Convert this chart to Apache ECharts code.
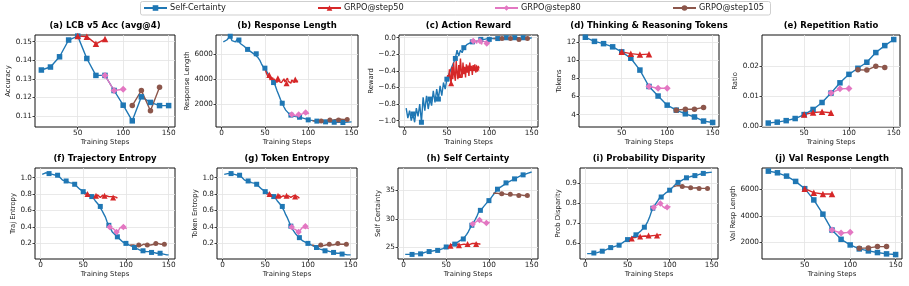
<!DOCTYPE html>
<html>
<head>
<meta charset="utf-8">
<script src="https://cdn.jsdelivr.net/npm/echarts@6/dist/echarts.min.js"></script>
<style>
html, body { margin: 0; padding: 0; background: #fff; }
#chart { width: 909px; height: 286px; }
</style>
</head>
<body>
<div id="chart"></div>
<script>
var FONT = 'DejaVu Sans';
var TXT = '#1a1a1a';
var GRIDC = '#e3e3e3';
var C_SC = '#1f77b4', C_50 = '#d62728', C_80 = '#e377c2', C_105 = '#8c564b';
var NAMES = ['Self-Certainty', 'GRPO@step50', 'GRPO@step80', 'GRPO@step105'];

// ---- (a) LCB v5 Acc, evaluated every 10 steps
var accSC = [0.1348, 0.1364, 0.1419, 0.1509, 0.1530, 0.1410, 0.1319, 0.1319, 0.1238, 0.1159, 0.1075, 0.1204, 0.1174, 0.1157, 0.1157];
var acc50 = [0.1530, 0.1527, 0.1489, 0.1514];
var acc80 = [0.1319, 0.1238, 0.1245];
var acc105 = [0.1157, 0.1238, 0.1129, 0.1256];

// ---- (d) Thinking & Reasoning Tokens
var tokSC = [12.5, 12.05, 11.8, 11.45, 10.9, 10.2, 8.9, 7.1, 6.05, 5.05, 4.5, 4.1, 3.75, 3.3, 3.15];
var tok50 = [10.9, 10.7, 10.6, 10.65];
var tok80 = [7.1, 6.9, 6.9];
var tok105 = [4.5, 4.6, 4.6, 4.8];

// ---- (e) Repetition Ratio
var repSC = [0.0011, 0.0014, 0.0019, 0.0026, 0.0039, 0.0056, 0.0079, 0.0110, 0.0144, 0.0172, 0.0192, 0.0212, 0.0244, 0.0267, 0.0287];
var rep50 = [0.0039, 0.0046, 0.0048, 0.0045];
var rep80 = [0.0110, 0.0124, 0.0125];
var rep105 = [0.0187, 0.0186, 0.0199, 0.0195];

// ---- (j) Val Response Length
var valSC = [7375, 7250, 7000, 6600, 6050, 5200, 4125, 2925, 2225, 1800, 1500, 1350, 1225, 1125, 1075];
var val50 = [6050, 5750, 5650, 5650];
var val80 = [2925, 2700, 2750];
var val105 = [1550, 1575, 1675, 1675];

// ---- dense (per step) curves: blue every 2 steps from 2, red every step from 50,
// pink every step from 80, brown every 2 steps from 105
var respSC = [6950, 6900, 7100, 7250, 7400, 7050, 7150, 6950, 7150, 7100,
  6800, 6950, 6600, 6650, 6350, 6450, 6150, 6250, 5950, 6000,
  5700, 5500, 5200, 4950, 4850, 4600, 4350, 4150, 3950, 3700,
  3450, 3050, 2700, 2350, 2050, 1750, 1500, 1350, 1200, 1100,
  1050, 1000, 980, 950, 930, 900, 860, 820, 780, 720,
  700, 680, 660, 640, 620, 600, 590, 580, 570, 560,
  560, 550, 540, 540, 530, 530, 520, 520, 520, 510,
  520, 530, 540, 550, 560];
var resp50 = [4850, 4600, 4400, 4250, 4100, 4300, 3900, 4150, 3850, 4100,
  3750, 4000, 3650, 3900, 3700, 4050, 3800, 3650, 3950, 3700,
  3850, 3600, 4000, 3750, 3900, 3650, 4050, 3800, 3700, 3950,
  3650, 3900, 3750, 4000, 3700, 3950, 3800, 3750, 3850];
var resp80 = [1100, 1150, 1050, 1100, 1000, 1150, 1050, 1100, 1050, 1150, 1050,
  1100, 1150, 1200, 1150, 1250, 1200, 1300, 1200, 1300, 1250, 1240];
var resp105 = [650, 620, 600, 640, 590, 620, 650, 600, 680, 640, 700,
  660, 720, 680, 750, 700, 780, 720, 760, 740, 750];

var rewSC = [-0.85, -0.97, -0.88, -1.0, -0.92, -1.02, -0.85, -0.95, -0.80, -1.02,
  -0.72, -0.88, -0.70, -0.86, -0.74, -0.82, -0.64, -0.78, -0.62, -0.74,
  -0.58, -0.70, -0.54, -0.62, -0.50, -0.48, -0.40, -0.42, -0.30, -0.25,
  -0.15, -0.22, -0.15, -0.18, -0.12, -0.12, -0.08, -0.07, -0.06, -0.05,
  -0.05, -0.03, -0.04, -0.03, -0.02, -0.03, -0.02, -0.02, -0.01, -0.02,
  -0.01, -0.02, -0.01, -0.01, -0.01, -0.01, 0.0, -0.01, -0.01, 0.0,
  -0.01, 0.0, -0.01, 0.0, 0.0, -0.01, 0.0, 0.0, -0.01, 0.0,
  0.0, 0.0, -0.01, 0.0, 0.0];
var rew50 = [-0.50, -0.45, -0.52, -0.38, -0.48, -0.55, -0.35, -0.50, -0.30, -0.45,
  -0.52, -0.28, -0.42, -0.50, -0.33, -0.45, -0.25, -0.40, -0.48, -0.30,
  -0.44, -0.35, -0.48, -0.32, -0.42, -0.36, -0.46, -0.30, -0.40, -0.34,
  -0.45, -0.33, -0.40, -0.32, -0.42, -0.36, -0.41, -0.34, -0.37];
var rew80 = [-0.05, -0.04, -0.06, -0.03, -0.05, -0.07, -0.04, -0.03, -0.06, -0.04, -0.05,
  -0.08, -0.04, -0.03, -0.06, -0.05, -0.04, -0.07, -0.03, -0.06, -0.08, -0.05];
var rew105 = [-0.01, -0.02, -0.01, -0.01, -0.02, -0.01, -0.01, -0.02, -0.01, -0.02, -0.01,
  -0.01, -0.02, -0.01, -0.01, -0.02, -0.01, -0.01, -0.02, -0.01, -0.01];

var trajSC = [1.04, 1.05, 1.06, 1.05, 1.05, 1.05, 1.04, 1.04, 1.03, 1.03,
  1.01, 0.99, 0.97, 0.96, 0.96, 0.95, 0.94, 0.93, 0.93, 0.92,
  0.90, 0.88, 0.86, 0.84, 0.83, 0.82, 0.81, 0.80, 0.78, 0.77,
  0.75, 0.72, 0.70, 0.67, 0.65, 0.60, 0.56, 0.52, 0.46, 0.42,
  0.38, 0.34, 0.32, 0.30, 0.28, 0.26, 0.24, 0.22, 0.21, 0.20,
  0.19, 0.18, 0.17, 0.16, 0.15, 0.14, 0.13, 0.12, 0.12, 0.11,
  0.11, 0.10, 0.10, 0.10, 0.09, 0.09, 0.09, 0.08, 0.08, 0.08,
  0.07, 0.07, 0.07, 0.06, 0.06];
var traj50 = [0.83, 0.82, 0.80, 0.81, 0.79, 0.80, 0.78, 0.81, 0.79, 0.77,
  0.80, 0.78, 0.76, 0.79, 0.77, 0.78, 0.76, 0.79, 0.77, 0.78,
  0.76, 0.78, 0.77, 0.79, 0.76, 0.78, 0.77, 0.78, 0.76, 0.78,
  0.77, 0.79, 0.76, 0.77, 0.78, 0.76, 0.77, 0.76, 0.77, 0.76, 0.75];
var traj80 = [0.42, 0.40, 0.38, 0.39, 0.37, 0.38, 0.36, 0.37, 0.35, 0.34, 0.36,
  0.35, 0.37, 0.39, 0.40, 0.41, 0.39, 0.40, 0.42, 0.39, 0.40, 0.38];
var traj105 = [0.18, 0.17, 0.18, 0.16, 0.17, 0.18, 0.17, 0.18, 0.19, 0.18, 0.18,
  0.19, 0.18, 0.19, 0.19, 0.20, 0.20, 0.19, 0.19, 0.18, 0.19];

var tentSC = [1.04, 1.05, 1.05, 1.05, 1.05, 1.04, 1.04, 1.04, 1.03, 1.03,
  1.01, 0.99, 0.97, 0.96, 0.96, 0.95, 0.94, 0.93, 0.93, 0.92,
  0.90, 0.88, 0.86, 0.84, 0.83, 0.82, 0.81, 0.80, 0.78, 0.77,
  0.75, 0.72, 0.70, 0.67, 0.65, 0.60, 0.55, 0.51, 0.46, 0.41,
  0.37, 0.34, 0.31, 0.29, 0.27, 0.25, 0.23, 0.22, 0.21, 0.20,
  0.19, 0.18, 0.17, 0.16, 0.15, 0.14, 0.13, 0.12, 0.12, 0.11,
  0.11, 0.10, 0.10, 0.09, 0.09, 0.09, 0.08, 0.08, 0.08, 0.07,
  0.07, 0.07, 0.06, 0.06, 0.06];
var tent50 = [0.83, 0.81, 0.80, 0.82, 0.79, 0.80, 0.78, 0.80, 0.79, 0.77,
  0.79, 0.78, 0.76, 0.79, 0.77, 0.78, 0.77, 0.79, 0.76, 0.78,
  0.77, 0.78, 0.76, 0.79, 0.77, 0.78, 0.76, 0.78, 0.77, 0.79,
  0.76, 0.78, 0.77, 0.78, 0.76, 0.77, 0.78, 0.76, 0.77, 0.76, 0.75];
var tent80 = [0.41, 0.40, 0.38, 0.39, 0.37, 0.37, 0.36, 0.36, 0.35, 0.34, 0.35,
  0.36, 0.37, 0.39, 0.40, 0.40, 0.39, 0.41, 0.41, 0.39, 0.40, 0.38];
var tent105 = [0.18, 0.17, 0.17, 0.16, 0.17, 0.18, 0.17, 0.18, 0.18, 0.18, 0.19,
  0.18, 0.18, 0.19, 0.19, 0.20, 0.19, 0.19, 0.19, 0.18, 0.19];

var certSC = [23.8, 23.7, 23.8, 23.8, 23.8, 23.8, 23.9, 23.8, 23.9, 23.9,
  24.0, 24.1, 24.2, 24.2, 24.3, 24.3, 24.4, 24.4, 24.5, 24.5,
  24.6, 24.7, 24.8, 25.0, 25.1, 25.2, 25.3, 25.4, 25.5, 25.6,
  25.8, 26.0, 26.2, 26.4, 26.5, 26.9, 27.3, 27.8, 28.4, 28.9,
  29.4, 29.9, 30.5, 31.2, 31.5, 31.8, 32.2, 32.5, 32.9, 33.2,
  33.6, 34.0, 34.4, 34.8, 35.2, 35.4, 35.6, 35.8, 36.0, 36.3,
  36.4, 36.6, 36.7, 36.9, 37.0, 37.1, 37.3, 37.4, 37.6, 37.7,
  37.8, 37.9, 38.0, 38.1, 38.2];
var cert50 = [25.1, 25.2, 25.3, 25.2, 25.4, 25.3, 25.5, 25.3, 25.4, 25.6,
  25.4, 25.5, 25.7, 25.5, 25.6, 25.4, 25.6, 25.7, 25.5, 25.6,
  25.4, 25.6, 25.5, 25.7, 25.5, 25.6, 25.4, 25.5, 25.6, 25.5,
  25.7, 25.6, 25.5, 25.7, 25.6, 25.6, 25.7, 25.6, 25.7, 25.6, 25.7];
var cert80 = [28.9, 29.1, 29.2, 29.3, 29.4, 29.5, 29.6, 29.6, 29.7, 29.8, 29.7,
  29.6, 29.5, 29.4, 29.3, 29.3, 29.4, 29.3, 29.4, 29.5, 29.4, 29.4];
var cert105 = [34.5, 34.6, 34.5, 34.5, 34.4, 34.4, 34.4, 34.3, 34.3, 34.2, 34.3,
  34.2, 34.2, 34.3, 34.2, 34.1, 34.2, 34.2, 34.1, 34.1, 34.1];

var probSC = [0.55, 0.55, 0.55, 0.55, 0.553, 0.553, 0.555, 0.557, 0.56, 0.562,
  0.565, 0.568, 0.572, 0.576, 0.58, 0.582, 0.585, 0.587, 0.59, 0.592,
  0.598, 0.604, 0.61, 0.615, 0.62, 0.624, 0.629, 0.634, 0.639, 0.644,
  0.65, 0.656, 0.664, 0.673, 0.682, 0.695, 0.71, 0.73, 0.755, 0.777,
  0.79, 0.80, 0.815, 0.828, 0.833, 0.84, 0.848, 0.855, 0.862, 0.867,
  0.875, 0.883, 0.892, 0.90, 0.906, 0.91, 0.915, 0.92, 0.925, 0.929,
  0.931, 0.934, 0.936, 0.938, 0.94, 0.941, 0.944, 0.947, 0.949, 0.951,
  0.952, 0.954, 0.955, 0.956, 0.957];
var prob50 = [0.62, 0.622, 0.625, 0.623, 0.627, 0.625, 0.63, 0.628, 0.632, 0.63,
  0.635, 0.632, 0.636, 0.633, 0.637, 0.635, 0.638, 0.634, 0.637, 0.639,
  0.636, 0.638, 0.635, 0.639, 0.637, 0.64, 0.636, 0.638, 0.641, 0.638,
  0.64, 0.642, 0.639, 0.641, 0.643, 0.64, 0.642, 0.644, 0.643, 0.645, 0.644];
var prob80 = [0.777, 0.78, 0.784, 0.787, 0.79, 0.793, 0.796, 0.8, 0.803, 0.8, 0.795,
  0.79, 0.785, 0.78, 0.778, 0.776, 0.78, 0.782, 0.785, 0.784, 0.783, 0.785];
var prob105 = [0.885, 0.888, 0.89, 0.887, 0.889, 0.885, 0.884, 0.882, 0.883, 0.88, 0.879,
  0.881, 0.878, 0.877, 0.879, 0.876, 0.877, 0.875, 0.876, 0.874, 0.875];

// x start / step for each series kind
var sparseX = { sc: [10, 10], g50: [50, 10], g80: [80, 10], g105: [110, 10] };
var denseX = { sc: [2, 2], g50: [50, 1], g80: [80, 1], g105: [105, 2] };

function f1(v) { return v < 0 ? '\u2212' + Math.abs(v).toFixed(1) : v.toFixed(1); }
function f2(v) { return v.toFixed(2); }
function f0(v) { return String(v); }

var panels = [
  { title: '(a) LCB v5 Acc (avg@4)', yName: 'Accuracy', gap: 22, box: [35, 35, 140, 92], dense: false,
    ymin: 0.1042, ymax: 0.1536, yt: [0.11, 0.12, 0.13, 0.14, 0.15], fmt: f2, d: [accSC, acc50, acc80, acc105] },
  { title: '(b) Response Length', yName: 'Response Length', gap: 24, box: [216, 35, 142, 92], dense: true,
    ymin: 150, ymax: 7500, yt: [2000, 4000, 6000], fmt: f0, d: [respSC, resp50, resp80, resp105] },
  { title: '(c) Action Reward', yName: 'Reward', gap: 24, box: [399, 35, 139, 92], dense: true,
    ymin: -1.077, ymax: 0.033, yt: [-1.0, -0.8, -0.6, -0.4, -0.2, 0.0], fmt: f1, d: [rewSC, rew50, rew80, rew105] },
  { title: '(d) Thinking & Reasoning Tokens', yName: 'Tokens', gap: 15.5, box: [579, 35, 140, 92], dense: false,
    ymin: 2.65, ymax: 12.75, yt: [4, 6, 8, 10, 12], fmt: f0, d: [tokSC, tok50, tok80, tok105] },
  { title: '(e) Repetition Ratio', yName: 'Ratio', gap: 22.5, box: [762, 35, 138, 92], dense: false,
    ymin: -0.0002, ymax: 0.0302, yt: [0, 0.01, 0.02], fmt: f2, d: [repSC, rep50, rep80, rep105] },
  { title: '(f) Trajectory Entropy', yName: 'Traj Entropy', gap: 18.5, box: [35, 168, 140, 91], dense: true,
    ymin: 0.01, ymax: 1.118, yt: [0.2, 0.4, 0.6, 0.8, 1.0], fmt: f1, d: [trajSC, traj50, traj80, traj105] },
  { title: '(g) Token Entropy', yName: 'Token Entropy', gap: 18.5, box: [217, 168, 140, 91], dense: true,
    ymin: 0.01, ymax: 1.118, yt: [0.2, 0.4, 0.6, 0.8, 1.0], fmt: f1, d: [tentSC, tent50, tent80, tent105] },
  { title: '(h) Self Certainty', yName: 'Self Certainty', gap: 16.5, box: [398, 168, 140, 91], dense: true,
    ymin: 23.0, ymax: 38.9, yt: [25, 30, 35], fmt: f0, d: [certSC, cert50, cert80, cert105] },
  { title: '(i) Probability Disparity', yName: 'Prob Disparity', gap: 18.5, box: [580, 168, 138, 91], dense: true,
    ymin: 0.523, ymax: 0.978, yt: [0.6, 0.7, 0.8, 0.9], fmt: f1, d: [probSC, prob50, prob80, prob105] },
  { title: '(j) Val Response Length', yName: 'Val Resp Length', gap: 25.5, box: [762, 168, 140, 91], dense: false,
    ymin: 738, ymax: 7612, yt: [2000, 4000, 6000], fmt: f0, d: [valSC, val50, val80, val105] }
];

var styles = [
  { name: NAMES[0], color: C_SC, sym: 'rect', size: 5.5, key: 'sc' },
  { name: NAMES[1], color: C_50, sym: 'triangle', size: 6.5, key: 'g50' },
  { name: NAMES[2], color: C_80, sym: 'diamond', size: 7, key: 'g80' },
  { name: NAMES[3], color: C_105, sym: 'circle', size: 5.5, key: 'g105' }
];

// which steps carry a marker on the per-step curves
function denseMark(key, x) {
  if (key === 'sc') return x % 10 === 0 && x >= 10 && x <= 140;
  if (key === 'g50') return (x - 55) % 10 === 0 && x >= 55;
  if (key === 'g80') return x === 81 || x === 89 || x === 97;
  return (x - 115) % 10 === 0 && x >= 115;
}

var grids = [], xAxes = [], yAxes = [], series = [], graphics = [];
var axisTxt = { fontFamily: FONT, fontSize: 7.3, color: TXT };

panels.forEach(function (p, i) {
  var b = p.box;
  grids.push({ left: b[0], top: b[1], width: b[2], height: b[3], show: true,
    borderColor: '#111', borderWidth: 1, containLabel: false });
  var xt = p.dense ? [0, 50, 100, 150] : [50, 100, 150];
  xAxes.push({
    gridIndex: i, type: 'value', min: p.dense ? -6.45 : 3, max: p.dense ? 157.45 : 157,
    name: 'Training Steps', nameLocation: 'middle', nameGap: 12,
    nameTextStyle: { fontFamily: FONT, fontSize: 6.9, color: TXT },
    axisLine: { show: false, onZero: false },
    axisTick: { show: true, length: 2.5, customValues: xt, lineStyle: { color: '#111', width: 0.8 } },
    axisLabel: Object.assign({ customValues: xt, margin: 3 }, axisTxt),
    splitLine: { show: true, lineStyle: { color: GRIDC, width: 0.8 } }
  });
  yAxes.push({
    gridIndex: i, type: 'value', min: p.ymin, max: p.ymax,
    name: p.yName, nameLocation: 'middle', nameGap: p.gap,
    nameTextStyle: { fontFamily: FONT, fontSize: 6.9, color: TXT },
    axisLine: { show: false, onZero: false },
    axisTick: { show: true, length: 2.5, customValues: p.yt, lineStyle: { color: '#111', width: 0.8 } },
    axisLabel: Object.assign({ customValues: p.yt, margin: 3, formatter: p.fmt }, axisTxt),
    splitLine: { show: true, lineStyle: { color: GRIDC, width: 0.8 } }
  });
  styles.forEach(function (s, k) {
    var xs = p.dense ? denseX[s.key] : sparseX[s.key];
    var vals = p.d[k];
    var data = vals.map(function (v, j) {
      var x = xs[0] + j * xs[1];
      var on = p.dense ? denseMark(s.key, x) : true;
      return { value: [x, v], symbol: on ? s.sym : 'none' };
    });
    series.push({
      type: 'line', name: s.name, xAxisIndex: i, yAxisIndex: i, data: data,
      symbol: s.sym, symbolSize: p.dense ? s.size - 0.5 : s.size, showAllSymbol: true,
      lineStyle: { color: s.color, width: 1.4 }, itemStyle: { color: s.color },
      animation: false, silent: true, emphasis: { disabled: true }
    });
  });
  graphics.push({
    type: 'text', x: b[0] + b[2] / 2, y: b[1] - 9,
    style: { text: p.title, font: 'bold 8.5px "DejaVu Sans"', fill: '#000',
      align: 'center', verticalAlign: 'middle', textAlign: 'center', textVerticalAlign: 'middle' }
  });
});

// legend frame
graphics.push({
  type: 'rect', z: -1, shape: { x: 140.5, y: 1.5, width: 630, height: 13.5, r: 2 },
  style: { fill: '#fff', stroke: '#cfcfcf', lineWidth: 1 }
});

var legendLeft = [143, 317, 494, 672];
var legends = NAMES.map(function (n, k) {
  return { data: [n], left: legendLeft[k], top: 4, padding: 0, itemGap: 0,
    itemWidth: 23, itemHeight: 7, selectedMode: false,
    textStyle: { fontFamily: FONT, fontSize: 8.2, color: TXT, padding: [0, 0, 0, -2] } };
});

var chart = echarts.init(document.getElementById('chart'), null, { renderer: 'canvas' });
chart.setOption({
  backgroundColor: '#fff',
  animation: false,
  legend: legends,
  grid: grids,
  xAxis: xAxes,
  yAxis: yAxes,
  series: series,
  graphic: graphics
});
</script>
</body>
</html>
